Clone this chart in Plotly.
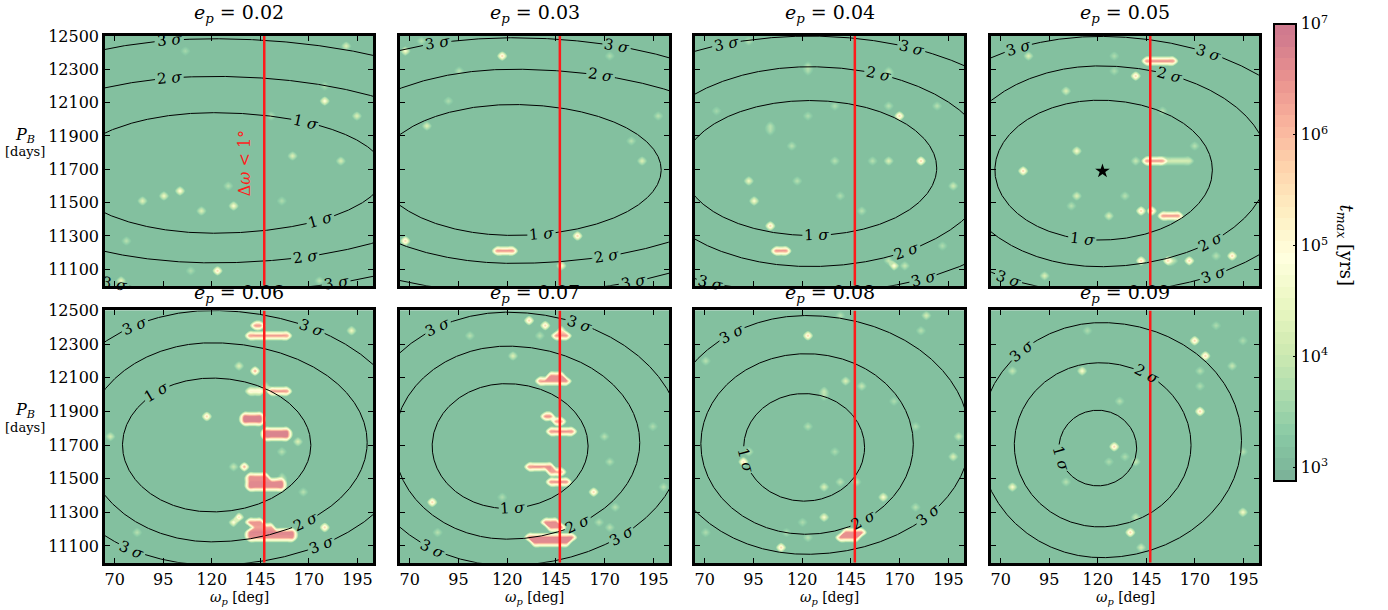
import numpy as np
import plotly.graph_objects as go

# ---------------- data ----------------
ECC = [0.02, 0.03, 0.04, 0.05, 0.06, 0.07, 0.08, 0.09]
OMEGA_RANGE = [65, 203]
PB_RANGE = [11000, 12500]
N_OMEGA = 51
N_PB = 51
X_TICKS = [70, 95, 120, 145, 170, 195]
Y_TICKS = [11100, 11300, 11500, 11700, 11900, 12100, 12300, 12500]
CBAR_TICKS = [3, 4, 5, 6, 7]
LOG_T_MIN, LOG_T_MAX = 2.88, 7.0
LOG_T_BASE = 3.15
DELTA_OMEGA_LINE = 147.0
BEST_FIT_OMEGA = [122.4]
BEST_FIT_PB = [11689]

# hot spots: (omega, P_B, log10 t_max)
SPOTS_E02 = [(189.3, 12431, 4.3), (107.3, 12401, 3.6), (177.3, 12096, 5.0), (194.4, 12035, 4.3),
             (149.5, 12035, 3.8), (161, 11794, 4.3), (185.8, 11761, 4.2), (178, 12189, 3.7),
             (104.4, 11582, 5.0), (95.5, 11548, 4.6), (84.7, 11522, 4.4), (115.9, 11459, 4.3),
             (132.4, 11489, 4.8), (129.8, 11611, 3.8), (155, 11518, 3.7), (76, 11276, 3.8),
             (124.1, 11091, 5.8), (109.6, 11095, 3.7), (73.6, 11036, 4.5), (175.6, 11036, 3.8)]
SPOTS_E03 = [(118.5, 12371, 5.8), (66.7, 12411, 4.8), (76.1, 12470, 3.8), (95.7, 12288, 3.8),
             (90.6, 12098, 3.7), (79.2, 11946, 4.3), (197, 12011, 3.8), (182.9, 11857, 3.8),
             (188.8, 11738, 4.3), (173, 12375, 3.7), (67.9, 11273, 5.8), (155, 11303, 5.8),
             (147, 11125, 5.0)]
SPOTS_E04 = [(93.2, 12470, 3.8), (124.3, 12322, 3.8), (124.3, 12292, 3.7), (163.3, 12302, 3.8),
             (163.3, 12272, 3.7), (103.5, 11966, 3.8), (103.5, 11936, 3.7), (136, 12075, 3.7),
             (124.3, 12035, 3.7), (163.8, 12094, 3.8), (189, 12075, 3.8), (169.3, 12011, 5.8),
             (180.4, 11762, 5.8), (76.6, 12039, 3.6), (116, 11827, 3.8), (135.6, 11738, 3.8),
             (155.6, 11738, 3.8), (163.8, 11738, 4.3), (197.5, 11609, 4.1), (93.2, 11643, 4.6),
             (118.5, 11639, 3.8), (96.3, 11524, 4.8), (138.5, 11550, 3.7), (151.7, 11457, 3.8),
             (104.7, 11366, 5.8), (165.9, 11125, 5.0), (171.9, 11125, 4.0), (163, 11150, 4.0),
             (191.5, 11247, 3.7)]
SPOTS_E05 = [(138.3, 12253, 5.8), (84.9, 12375, 4.3), (129.7, 12375, 3.7), (129.4, 12282, 3.7),
             (104.4, 12164, 4.3), (154.5, 12039, 3.8), (110, 11797, 4.8), (81.8, 11702, 5.8),
             (169.1, 11827, 3.8), (110, 11550, 4.3), (107.1, 11485, 3.8), (132.8, 11550, 3.8),
             (127.1, 11425, 4.3), (143.4, 11461, 5.8), (148.5, 11461, 6.0), (143.4, 11154, 5.8),
             (155.4, 11148, 5.8), (166.5, 11148, 5.8), (188.8, 11184, 5.8), (180.2, 11184, 3.8),
             (93.8, 11061, 4.3), (159, 11148, 4.0), (140, 11738, 4.0)]
SPOTS_E06 = [(130.1, 11243, 5.0), (118.6, 11883, 5.8), (132.7, 12164, 4.3), (163.6, 11728, 4.3),
             (156.4, 11669, 3.8), (166.1, 11431, 3.8), (191, 12371, 4.6), (177.8, 11210, 5.8),
             (68.1, 11762, 4.2), (81.3, 11184, 3.8), (156.7, 11500, 3.8), (131, 11584, 4.0),
             (135, 11270, 5.6), (148, 12065, 4.0)]
SPOTS_E07 = [(132.3, 12435, 5.8), (140.8, 12407, 5.8), (101.5, 12342, 3.8), (138, 12352, 3.8),
             (123.7, 12217, 4.3), (163.4, 11425, 5.8), (81.4, 11362, 5.8), (174.2, 11322, 3.8),
             (166.5, 11247, 3.8), (171.6, 11210, 3.8), (199.9, 11461, 3.8), (169, 11762, 3.8),
             (173.8, 11604, 3.8), (83.5, 11184, 3.8), (195, 11810, 3.7), (117, 11380, 3.7)]
SPOTS_E08 = [(124.3, 12342, 5.8), (138.5, 12470, 3.8), (183.5, 12470, 4.2), (180.4, 12371, 3.8),
             (71, 12193, 3.8), (141.1, 12075, 4.3), (149.8, 12065, 4.0), (130, 12019, 4.0),
             (130, 11990, 3.8), (168.1, 11956, 3.7), (178.7, 11821, 3.7), (200.1, 11762, 4.1),
             (197.5, 11643, 4.3), (124, 11797, 3.8), (136, 11669, 3.7), (93.2, 11669, 4.0),
             (90.6, 11609, 5.6), (132.5, 11461, 4.3), (140, 11490, 3.9), (148, 11490, 3.9),
             (161.3, 11402, 4.8), (177.9, 11326, 3.8), (130, 11273, 4.8), (121.5, 11247, 3.7),
             (113, 11190, 3.7), (121.6, 11155, 3.8), (107.8, 11091, 5.8), (71, 11184, 3.7)]
SPOTS_E09 = [(169.1, 12312, 5.8), (175.1, 12217, 5.8), (171.7, 11906, 5.8), (180, 12400, 3.7),
             (194.8, 12312, 3.7), (188.8, 12158, 4.0), (171.7, 12130, 3.8), (171.7, 12060, 3.7),
             (112.9, 12130, 4.8), (76.6, 12130, 4.0), (116, 12371, 3.7), (130.6, 11956, 3.8),
             (129.7, 11698, 5.8), (124.6, 11609, 3.7), (133, 11640, 3.7), (138.3, 11609, 4.0),
             (104.4, 11485, 3.8), (76.1, 11457, 4.8), (194.8, 11303, 4.7), (194.8, 11673, 3.8),
             (138.3, 11273, 4.0), (135.4, 11180, 5.8), (141.2, 11091, 4.2)]

# unstable strips: (omega_from, omega_to, P_B, log10 t_max)
BARS_E02 = []
BARS_E03 = [(112, 125.6, 11214, 6.5)]
BARS_E04 = [(104.3, 112, 11214, 6.5)]
BARS_E05 = [(142.6, 161.4, 12348, 6.6), (145, 153.7, 11738, 6.5), (156, 168, 11738, 4.2),
            (152, 162.2, 11431, 6.5)]
BARS_E06 = [(139.6, 146.4, 12411, 6.5), (137.8, 159.3, 12348, 6.5), (140.4, 144.7, 12134, 6.3),
            (138.7, 146, 12035, 5.2), (148, 159.3, 12035, 6.5), (135.3, 147.3, 11860, 6.7),
            (135.3, 147.3, 11830, 6.7), (147.3, 159.3, 11770, 6.7), (147.3, 159.3, 11740, 6.7),
            (135.8, 139.2, 11580, 6.3), (137.8, 149.8, 11520, 6.5), (138.7, 158.4, 11470, 6.6),
            (138.7, 158.4, 11440, 6.6), (137, 146.4, 11253, 6.5), (142, 153, 11200, 6.3),
            (137, 161.8, 11170, 6.7), (137, 161.8, 11140, 6.5)]
BARS_E07 = [(143.4, 152.8, 12352, 6.5), (146, 150, 12380, 5.5), (142, 148, 12105, 6.5),
            (136, 153, 12075, 6.5), (137, 145, 11860, 6.6), (143, 149, 11830, 6.4),
            (140, 155, 11770, 6.6), (131, 145, 11560, 6.6), (140, 149, 11530, 6.3),
            (140, 153, 11470, 6.6), (137, 147, 11250, 6.6), (140, 150, 11210, 6.5),
            (131, 156, 11160, 6.7), (134, 153, 11130, 6.6)]
BARS_E08 = [(141, 152, 11180, 6.5), (139, 150, 11150, 6.5)]
BARS_E09 = []

# sigma contours: (center omega, center P, a_left, a_right, b_top, b_bottom) for 1,2,3 sigma
SIGMA_E02 = [(121, 11678, 75, 88, 362, 362), (121, 11698, 117, 133, 560, 560), (121, 11698, 143, 169, 786, 735)]
SIGMA_E03 = [(123, 11696, 69, 76, 393, 393), (123, 11718, 97, 128, 583, 583), (123, 11718, 135, 150, 772, 760)]
SIGMA_E04 = [(124, 11708, 65, 65, 405, 405), (124, 11716, 86, 93, 600, 600), (124, 11716, 127, 125, 784, 760)]
SIGMA_E05 = [(121, 11695, 54, 58, 420, 420), (121, 11718, 74, 87, 603, 603), (121, 11718, 102, 115, 780, 760)]
SIGMA_E06 = [(120, 11700, 46, 51, 398, 398), (120, 11716, 65, 80, 592, 592), (120, 11716, 85, 103, 784, 730)]
SIGMA_E07 = [(119.5, 11694, 38, 42, 371, 371), (120, 11714, 58, 68, 574, 574), (120, 11714, 76, 90, 776, 730)]
SIGMA_E08 = [(121, 11686, 31, 31, 320, 320), (122, 11706, 54, 55, 537, 537), (122, 11740, 73, 84, 730, 690)]
SIGMA_E09 = [(120, 11682, 20, 20, 225, 225), (121, 11701, 44, 47, 488, 488), (122, 11728, 63, 72, 700, 698)]

# contour labels: (sigma level, omega or P_B, side t/b/l)
LABELS_E02 = [(3, 98, 't'), (2, 98, 't'), (1, 168, 't'), (1, 176, 'b'), (2, 168, 'b'), (3, 184, 'b'),
              (3, 70, 'b')]
LABELS_E03 = [(3, 84, 't'), (3, 176, 't'), (2, 168, 't'), (1, 137.6, 'b'), (2, 171, 'b'), (3, 184.6, 'b')]
LABELS_E04 = [(3, 81, 't'), (3, 176, 't'), (2, 159, 't'), (1, 127.4, 'b'), (2, 173.6, 'b'), (3, 182, 'b'),
              (3, 73, 'b')]
LABELS_E05 = [(3, 79, 't'), (3, 177, 't'), (2, 157, 't'), (1, 112, 'b'), (2, 178, 'b'), (3, 179.4, 'b'),
              (3, 74, 'b')]
LABELS_E06 = [(3, 80.4, 't'), (3, 171.3, 't'), (1, 91.6, 't'), (2, 168, 'b'), (3, 176.4, 'b'), (3, 78.7, 'b')]
LABELS_E07 = [(3, 84.4, 't'), (3, 157, 't'), (1, 122.9, 'b'), (2, 156.3, 'b'), (3, 178.5, 'b'), (3, 81.8, 'b')]
LABELS_E08 = [(3, 83.8, 't'), (1, 11610, 'l'), (2, 151.4, 'b'), (3, 184.7, 'b')]
LABELS_E09 = [(3, 80.9, 't'), (2, 145.1, 't'), (1, 11620, 'l')]

SPOTS = [SPOTS_E02, SPOTS_E03, SPOTS_E04, SPOTS_E05, SPOTS_E06, SPOTS_E07, SPOTS_E08, SPOTS_E09]
BARS = [BARS_E02, BARS_E03, BARS_E04, BARS_E05, BARS_E06, BARS_E07, BARS_E08, BARS_E09]
SIGMAS = [SIGMA_E02, SIGMA_E03, SIGMA_E04, SIGMA_E05, SIGMA_E06, SIGMA_E07, SIGMA_E08, SIGMA_E09]
LABELS = [LABELS_E02, LABELS_E03, LABELS_E04, LABELS_E05, LABELS_E06, LABELS_E07, LABELS_E08, LABELS_E09]

# ---------------- style / layout ----------------
FIG_W, FIG_H = 1388, 610
COL_X = [(105, 373), (400, 669), (695, 964), (991, 1259)]
ROW_Y = [(27.5, 281), (306, 562)]
SERIF = "DejaVu Serif"
ALPHA = 0.52
RDYLGN_R = ['#006837', '#1a9850', '#66bd63', '#a6d96a', '#d9ef8b', '#ffffbf',
            '#fee08b', '#fdae61', '#f46d43', '#d73027', '#a50026']
LABEL_GAP_PX = 14
LEVEL_STEP = 0.103


def blend(hexc, a=ALPHA):
    r, g, b = int(hexc[1:3], 16), int(hexc[3:5], 16), int(hexc[5:7], 16)
    return (r * a + 255 * (1 - a), g * a + 255 * (1 - a), b * a + 255 * (1 - a))


CS_RGB = [blend(c) for c in RDYLGN_R]
COLORSCALE = [[i / (len(CS_RGB) - 1), 'rgb(%d,%d,%d)' % tuple(round(v) for v in c)] for i, c in enumerate(CS_RGB)]

omega_grid = np.linspace(OMEGA_RANGE[0], OMEGA_RANGE[1], N_OMEGA)
pb_grid = np.linspace(PB_RANGE[0], PB_RANGE[1], N_PB)

PX_PER_DEG = (COL_X[0][1] - COL_X[0][0]) / (OMEGA_RANGE[1] - OMEGA_RANGE[0])
PX_PER_DAY = (ROW_Y[0][1] - ROW_Y[0][0]) / (PB_RANGE[1] - PB_RANGE[0])


def build_field(spots, bars):
    z = np.full((N_PB, N_OMEGA), LOG_T_BASE)
    for w, p, v in spots:
        i = int(np.argmin(np.abs(pb_grid - p)))
        j = int(np.argmin(np.abs(omega_grid - w)))
        z[i, j] = max(z[i, j], v)
    for w0, w1, p, v in bars:
        i = int(np.argmin(np.abs(pb_grid - p)))
        js = np.where((omega_grid >= w0) & (omega_grid <= w1))[0]
        if len(js) == 0:
            js = [int(np.argmin(np.abs(omega_grid - 0.5 * (w0 + w1))))]
        for j in js:
            z[i, j] = max(z[i, j], v)
    return z


def curve(par):
    cx, cy, aL, aR, bT, bB = par
    t = np.linspace(0, 2 * np.pi, 2000)
    c, s = np.cos(t), np.sin(t)
    a = np.where(c >= 0, aR, aL)
    b = np.where(s >= 0, bT, bB)
    return cx + a * c, cy + b * s


def label_pos(par, val, side):
    cx, cy, aL, aR, bT, bB = par
    if side in ('t', 'b'):
        a = aR if val >= cx else aL
        c = np.clip((val - cx) / a, -1, 1)
        s = np.sqrt(1 - c * c) * (1 if side == 't' else -1)
    else:
        b = bT if val >= cy else bB
        s = np.clip((val - cy) / b, -1, 1)
        c = -np.sqrt(1 - s * s) if side == 'l' else np.sqrt(1 - s * s)
    a = aR if c >= 0 else aL
    b = bT if s >= 0 else bB
    x, y = cx + a * c, cy + b * s
    dx, dy = -a * s * PX_PER_DEG, b * c * PX_PER_DAY
    ang = -np.degrees(np.arctan2(dy, dx))
    while ang > 90:
        ang -= 180
    while ang <= -90:
        ang += 180
    return x, y, ang


fig = go.Figure()
annotations = []
layout_axes = {}

for k in range(8):
    row, col = k // 4, k % 4
    n = k + 1
    xr = 'x' if n == 1 else f'x{n}'
    yr = 'y' if n == 1 else f'y{n}'
    xd = [COL_X[col][0] / FIG_W, COL_X[col][1] / FIG_W]
    yd = [1 - ROW_Y[row][1] / FIG_H, 1 - ROW_Y[row][0] / FIG_H]

    z = build_field(SPOTS[k], BARS[k])
    fig.add_trace(go.Contour(
        x=omega_grid, y=pb_grid, z=z, xaxis=xr, yaxis=yr,
        colorscale=COLORSCALE, zmin=LOG_T_MIN, zmax=LOG_T_MAX, zauto=False,
        autocontour=False,
        contours=dict(start=LOG_T_MIN, end=LOG_T_MAX - LEVEL_STEP, size=LEVEL_STEP,
                      coloring='fill', showlines=False),
        line=dict(width=0), hoverinfo='skip', showscale=(k == 0),
        colorbar=dict(
            x=1274 / FIG_W, xanchor='left', xpad=0, y=1 - 15 / FIG_H, yanchor='top', ypad=0,
            len=464 / FIG_H, lenmode='fraction', thickness=22, thicknessmode='pixels',
            outlinewidth=2, outlinecolor='black',
            tickmode='array', tickvals=CBAR_TICKS,
            ticktext=['10<sup>%d</sup>' % v for v in CBAR_TICKS],
            ticks='inside', ticklen=4, tickcolor='black',
            tickfont=dict(family=SERIF, size=16, color='black'),
        ),
    ))

    lab_by_level = {1: [], 2: [], 3: []}
    for lev, val, side in LABELS[k]:
        lx, ly, ang = label_pos(SIGMAS[k][lev - 1], val, side)
        lab_by_level[lev].append((lx, ly))
        annotations.append(dict(x=lx, y=ly, xref=xr, yref=yr, text='%d <i>σ</i>' % lev,
                                showarrow=False, textangle=ang, xanchor='center', yanchor='middle',
                                font=dict(family=SERIF, size=15, color='black')))

    for lev, par in enumerate(SIGMAS[k], start=1):
        cxs, cys = curve(par)
        for lx, ly in lab_by_level[lev]:
            d = np.hypot((cxs - lx) * PX_PER_DEG, (cys - ly) * PX_PER_DAY)
            cys = np.where(d < LABEL_GAP_PX, np.nan, cys)
        fig.add_trace(go.Scatter(x=cxs, y=cys, xaxis=xr, yaxis=yr, mode='lines',
                                 line=dict(color='black', width=1), hoverinfo='skip',
                                 showlegend=False, connectgaps=False))

    fig.add_trace(go.Scatter(x=[DELTA_OMEGA_LINE, DELTA_OMEGA_LINE], y=PB_RANGE, xaxis=xr, yaxis=yr,
                             mode='lines', line=dict(color='#ff1a1a', width=2.5),
                             hoverinfo='skip', showlegend=False))

    if k == 3:
        fig.add_trace(go.Scatter(x=BEST_FIT_OMEGA, y=BEST_FIT_PB, xaxis=xr, yaxis=yr, mode='markers',
                                 marker=dict(symbol='star', size=11, color='black'),
                                 hoverinfo='skip', showlegend=False))

    axis_common = dict(showline=True, linewidth=2.5, linecolor='black', mirror='allticks',
                       ticks='inside', ticklen=5, tickwidth=1, tickcolor='black',
                       showgrid=False, zeroline=False,
                       tickfont=dict(family=SERIF, size=16, color='black'))
    layout_axes['xaxis' if n == 1 else f'xaxis{n}'] = dict(
        domain=xd, range=OMEGA_RANGE, anchor=yr, tickmode='array', tickvals=X_TICKS,
        ticktext=[str(v) for v in X_TICKS], showticklabels=(row == 1), **axis_common)
    layout_axes['yaxis' if n == 1 else f'yaxis{n}'] = dict(
        domain=yd, range=PB_RANGE, anchor=xr, tickmode='array', tickvals=Y_TICKS,
        ticktext=[str(v) for v in Y_TICKS], showticklabels=(col == 0), **axis_common)

    annotations.append(dict(x=(xd[0] + xd[1]) / 2, y=yd[1], xref='paper', yref='paper',
                            yanchor='bottom', xanchor='center', showarrow=False,
                            yshift=8 if row == 0 else 2,
                            text='<i>e</i><sub><i>p</i></sub> = %.2f' % ECC[k],
                            font=dict(family=SERIF, size=19, color='black')))
    if row == 1:
        annotations.append(dict(x=(xd[0] + xd[1]) / 2, y=1 - 598 / FIG_H, xref='paper', yref='paper',
                                xanchor='center', yanchor='middle',
                                showarrow=False, text='<i>ω</i><sub><i>p</i></sub> [deg]',
                                font=dict(family=SERIF, size=14, color='black')))
    if col == 0:
        ytop = 128 if row == 0 else 408
        annotations.append(dict(x=25 / FIG_W, y=1 - ytop / FIG_H, xref='paper', yref='paper',
                                xanchor='center', yanchor='middle',
                                showarrow=False, text='<i>P</i><sub><i>B</i></sub>',
                                font=dict(family=SERIF, size=16, color='black')))
        annotations.append(dict(x=25 / FIG_W, y=1 - (ytop + 17) / FIG_H, xref='paper', yref='paper',
                                xanchor='center', yanchor='middle',
                                showarrow=False, text='[days]',
                                font=dict(family=SERIF, size=13, color='black')))

annotations.append(dict(x=137, y=11735, xref='x', yref='y', showarrow=False, textangle=-90,
                        xanchor='center', yanchor='middle',
                        text='Δ<i>ω</i> &lt; 1°', font=dict(family=SERIF, size=16, color='#ff1a1a')))
annotations.append(dict(x=1345 / FIG_W, y=1 - 240 / FIG_H, xref='paper', yref='paper', showarrow=False,
                        xanchor='center', yanchor='middle',
                        textangle=90, text='<i>t</i><sub><i>max</i></sub> [yrs]',
                        font=dict(family=SERIF, size=18, color='black')))

fig.update_layout(width=FIG_W, height=FIG_H, margin=dict(l=0, r=0, t=0, b=0),
                  paper_bgcolor='white', plot_bgcolor='white', showlegend=False,
                  annotations=annotations, **layout_axes)

fig.write_html("out.html")
